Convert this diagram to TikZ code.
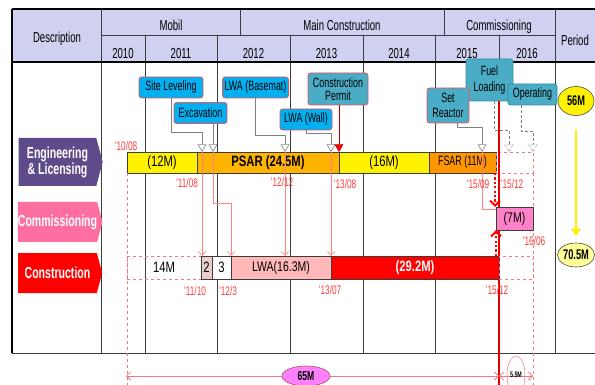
\documentclass[tikz,border=0pt]{standalone}
\usepackage{fontspec}
\setmainfont{Liberation Sans}[FakeStretch=0.66]
\newfontfamily\barfont{Liberation Sans}[FakeStretch=0.75]
\usepackage{xcolor}
\usepackage{tikz}
\usetikzlibrary{shapes.geometric, shapes.symbols, arrows.meta, positioning, calc}

\definecolor{hdrfill}{RGB}{208,208,240}
\definecolor{gridgray}{RGB}{60,60,60}
\definecolor{englbl}{RGB}{95,75,139}
\definecolor{comlbl}{RGB}{255,110,160}
\definecolor{conlbl}{RGB}{255,0,0}
\definecolor{psar}{RGB}{255,180,0}
\definecolor{fsar}{RGB}{255,150,0}
\definecolor{callA}{RGB}{0,176,240}
\definecolor{callB}{RGB}{75,172,198}
\definecolor{callbrd}{RGB}{240,80,90}
\definecolor{calldark}{RGB}{50,140,165}
\definecolor{datered}{RGB}{255,60,60}
\definecolor{leadpink}{RGB}{255,130,130}
\definecolor{dashpink}{RGB}{240,120,130}
\definecolor{commfill}{RGB}{255,130,200}
\definecolor{lwafill}{RGB}{255,185,185}
\definecolor{twofill}{RGB}{235,205,205}
\definecolor{magell}{RGB}{255,128,255}
\definecolor{paleyel}{RGB}{255,255,150}

\tikzset{
  % Table styles
  hdrtext/.style={font=\fontsize{14.5}{16}\selectfont, inner sep=0pt, anchor=base},
  gridline/.style={draw=gridgray, line width=0.8pt},
  % Row label styles
  rowlbl/.style={signal, signal to=east, signal pointer angle=150, minimum width=84pt, minimum height=#1, inner sep=0pt, text=white, font=\fontsize{16}{16}\selectfont\bfseries, align=center},
  % Bar styles
  barbox/.style={rectangle, draw=gridgray, line width=0.5pt, minimum height=21pt, inner sep=0pt, outer sep=0pt, font=\barfont\fontsize{15}{16}\selectfont, fill=#1},
  barbox/.default={white},
  tailbox/.style={rectangle, draw=dashpink, dashed, line width=0.6pt, minimum height=21pt, inner sep=0pt, outer sep=0pt, font=\barfont\fontsize{15}{16}\selectfont},
  % Callout styles
  callout/.style={rectangle, rounded corners=2.5pt, draw=callbrd, line width=0.7pt, fill=#1, inner xsep=2pt, inner ysep=1pt, minimum height=21pt, font=\fontsize{13.5}{13.5}\selectfont, align=center},
  callout/.default={callA},
  milestone/.style={regular polygon, regular polygon sides=3, shape border rotate=180, minimum size=9pt, inner sep=0pt, draw=gray, fill=white, line width=0.6pt, anchor=corner 1},
  leader/.style={draw=gray, line width=0.6pt},
  pinkarrow/.style={draw=leadpink, line width=0.7pt, -{Straight Barb[length=4pt, width=7pt]}},
  dotarrow/.style={draw=red, line width=2pt, dash pattern=on 2.2pt off 2.2pt, -{Straight Barb[length=5pt, width=10pt]}},
  redline/.style={draw=red!90!black, line width=1.3pt},
  pinkdash/.style={draw=dashpink, dashed, line width=0.5pt},
  datelbl/.style={text=datered, font=\fontsize{12.5}{13}\selectfont, inner sep=0pt},
  periodell/.style={ellipse, draw=black!70, line width=0.6pt, inner sep=0pt, font=\fontsize{14}{14}\selectfont\bfseries, fill=#1},
  dimarrow/.style={draw=dashpink, line width=0.8pt, {Straight Barb[length=4pt, width=8pt]}-{Straight Barb[length=4pt, width=8pt]}},
}

\begin{document}
\begin{tikzpicture}[x=1pt, y=-1pt]
    \useasboundingbox (0,0) rectangle (595,385);

    % Header band
    \fill[hdrfill] (12,9) rectangle (595,62);

    % Grid
    \draw[gridline] (101,9) -- (101,353);
    \draw[gridline] (555,9) -- (555,353);
    \draw[gridline] (240,9) -- (240,35);
    \draw[gridline] (444,9) -- (444,35);
    \draw[gridline] (101,35) -- (555,35);
    \foreach \x in {145,217,290,363,435}
      \draw[gridline] (\x,35) -- (\x,353);
    \draw[gridline] (499,35) -- (499,62);
    \draw[gridline, line width=1pt] (12,353) -- (595,353);
    \draw[black, line width=1.6pt] (12,9) -- (595,9);
    \draw[black, line width=2.6pt] (12,62) -- (595,62);
    \draw[black, line width=1.6pt] (12,9) -- (12,353);

    % Header texts
    \node[hdrtext] (hDesc) at (57,43) {Description};
    \node[hdrtext] (hMobil) at (171,31) {Mobil};
    \node[hdrtext] (hMain) at (342,31) {Main Construction};
    \node[hdrtext] (hComm) at (499,31) {Commissioning};
    \node[hdrtext] (hPeriod) at (575,46) {Period};
    \node[hdrtext] (y2010) at (123,59) {2010};
    \node[hdrtext] (y2011) at (181,59) {2011};
    \node[hdrtext] (y2012) at (253.5,59) {2012};
    \node[hdrtext] (y2013) at (326.5,59) {2013};
    \node[hdrtext] (y2014) at (399,59) {2014};
    \node[hdrtext] (y2015) at (467,59) {2015};
    \node[hdrtext] (y2016) at (527,59) {2016};

    % Row labels
    \node[rowlbl=48pt, fill=englbl] (lEng) at (57.5,162) {Engineering\\\& Licensing};
    \node[rowlbl=40pt, fill=comlbl] (lComm) at (57.5,222) {Commissioning};
    \node[rowlbl=40pt, fill=conlbl] (lCon) at (57.5,273) {Construction};

    % Engineering & Licensing bars
    \node[barbox=yellow, minimum width=70pt, anchor=north west] (eng12) at (127,152) {(12M)};
    \node[barbox=psar, minimum width=142pt, right=0pt of eng12, font=\barfont\fontsize{15}{16}\selectfont\bfseries] (psar) {PSAR (24.5M)};
    \node[barbox=yellow, minimum width=90pt, right=0pt of psar] (eng16) {(16M)};
    \node[barbox=fsar, minimum width=67pt, right=0pt of eng16, font=\fontsize{13.5}{14}\selectfont] (fsar) {FSAR (11M)};
    \node[tailbox, minimum width=37pt, right=0pt of fsar] (engTail) {};

    % Fuel loading line and period guides
    \node[callout=callB, draw=calldark, minimum width=47pt, minimum height=42pt, font=\fontsize{13.5}{16}\selectfont] (fuel) at (489.5,80) {Fuel\\Loading};
    \coordinate (dimL) at (126,376);
    \coordinate (dimM) at (499,376);
    \coordinate (dimR) at (533,376);
    \draw[redline, shorten >=-9pt] (fuel.south -| dimM) -- (dimM);
    \draw[pinkdash, shorten >=-9pt] (eng12.south west) -- (eng12.south west |- dimL);
    \draw[pinkdash, shorten >=-9pt] (engTail.south east) -- (engTail.south east |- dimR);

    % Commissioning bar
    \node[barbox=commfill, minimum width=37pt, minimum height=23pt, anchor=north west, font=\barfont\fontsize{14}{15}\selectfont] (comm) at (496,207) {(7M)};

    % Construction bars
    \node[tailbox, minimum width=74pt, minimum height=23pt, anchor=north west] (cr14) at (127,256) {14M};
    \node[barbox=twofill, minimum width=11pt, minimum height=23pt, right=0pt of cr14] (cr2) {2};
    \node[barbox, minimum width=19pt, minimum height=23pt, right=0pt of cr2] (cr3) {3};
    \node[barbox=lwafill, minimum width=100pt, minimum height=23pt, right=0pt of cr3, font=\barfont\fontsize{14}{15}\selectfont] (crLwa) {LWA(16.3M)};
    \node[barbox=red, minimum width=168pt, minimum height=23pt, right=0pt of crLwa, text=white, font=\barfont\fontsize{15}{16}\selectfont\bfseries] (crRed) {(29.2M)};
    \node[tailbox, minimum width=34pt, minimum height=23pt, right=0pt of crRed] (crTail) {};

    % Callouts
    \node[callout, minimum width=64pt] (site) at (171,87.5) {Site Leveling};
    \node[callout, minimum width=53pt] (exc) at (200.5,113) {Excavation};
    \node[callout, minimum width=65pt] (lwab) at (255.5,87.5) {LWA (Basemat)};
    \node[callout, minimum width=52pt] (lwaw) at (306,119.5) {LWA (Wall)};
    \node[callout=callB, minimum width=60pt, minimum height=32pt] (permit) at (338,89) {Construction\\Permit};
    \node[callout=callB, minimum width=42pt, minimum height=35pt, font=\fontsize{13.5}{15}\selectfont] (setr) at (448,105.5) {Set\\Reactor};
    \node[callout=callB, draw=calldark, minimum width=49pt] (oper) at (532.5,94.5) {Operating};

    % Milestones
    \node[milestone] (tSite) at (202,152) {};
    \node[milestone] (tExc) at (213,152) {};
    \node[milestone] (tLwab) at (285,152) {};
    \node[milestone] (tWall) at (331,152) {};
    \node[milestone, fill=red, draw=red!70!black] (tPermit) at (339,152) {};
    \node[milestone] (tSet) at (482,152) {};
    \node[milestone, draw=gray!70, densely dashed] (tFuel) at (509,152) {};
    \node[milestone, draw=gray!70, densely dashed] (tOper) at (533,152) {};

% === Leaders ===
    \draw[leader] (site.south) -- ++(0,34) -| (tSite.north);
    \draw[leader] (exc.south -| tExc.north) -- (tExc.north);
    \draw[leader] (lwab.south) -- ++(0,37) -| (tLwab.north);
    \draw[leader] (lwaw.south) -- ++(0,3) -| (tWall.north);
    \draw[leader, draw=red!70!black] (permit.south -| tPermit.north) -- (tPermit.north);
    \draw[leader] ([xshift=9pt]setr.south) -- ++(0,4) -| (tSet.north);
    \draw[leader, densely dashed] ([xshift=4.5pt]fuel.south) -- ++(0,29) -| (tFuel.north);
    \draw[leader, densely dashed] ([xshift=-11.5pt]oper.south) -- ++(0,26) -| (tOper.north);

% === Arrows ===
    \draw[pinkarrow] (tSite.corner 1) -- (tSite.corner 1 |- cr2.north);
    \draw[pinkarrow] (tExc.corner 1) -- ++(0,51) -| (crLwa.north west);
    \draw[pinkarrow] (tLwab.corner 1) -- (tLwab.corner 1 |- crLwa.north);
    \draw[pinkarrow] (tWall.corner 1) -- (tWall.corner 1 |- crRed.north);
    \draw[leader, draw=leadpink] (tSet.corner 1) |- ([yshift=-2pt]comm.north west);
    % FSAR end into commissioning, construction end into commissioning
    \draw[dotarrow] ([xshift=-1pt]fsar.south east) -- ([xshift=-1pt]fsar.south east |- comm.north);
    \draw[dotarrow] ([xshift=-3pt]crRed.north east) -- ([xshift=-3pt]crRed.north east |- comm.south);

    % Dates
    \node[datelbl] (d1008) at (126,146) {'10/08};
    \node[datelbl] (d1108) at (187,183) {'11/08};
    \node[datelbl] (d1212) at (282,182) {'12/12};
    \node[datelbl] (d1308) at (345,184) {'13/08};
    \node[datelbl] (d1509) at (478,184) {'15/09};
    \node[datelbl] (d1512a) at (512,184) {'15/12};
    \node[datelbl] (d1606) at (534,241) {'16/06};
    \node[datelbl] (d1110) at (195,291) {'11/10};
    \node[datelbl] (d123) at (228,291) {'12/3};
    \node[datelbl] (d1307) at (330,290) {'13/07};
    \node[datelbl] (d1512b) at (497,290) {'15/12};

    % Period
    \node[periodell=yellow, minimum width=36pt, minimum height=29pt] (p56) at (576,101) {56M};
    \node[periodell=paleyel, minimum width=37pt, minimum height=24pt] (p705) at (576,255) {70.5M};
    \draw[yellow, line width=1.5pt, -{Triangle[length=7pt, width=10pt]}, shorten <=14pt, shorten >=7pt] (p56) -- (p705);

    % Totals
    \draw[dimarrow] (dimL) -- (dimM);
    \draw[dimarrow] (dimM) -- (dimR);
    \node[ellipse, draw=dashpink!70!black, fill=magell, line width=0.6pt, minimum width=48pt, minimum height=20pt, inner sep=0pt, font=\fontsize{13}{13}\selectfont\bfseries] (m65) at (306,376) {65M};
    \node[ellipse, draw=dashpink, line width=0.5pt, minimum width=18pt, minimum height=38pt, inner sep=0pt, font=\fontsize{8}{8}\selectfont\bfseries] (m55) at (516,375) {5.5M};
\end{tikzpicture}
\end{document}
